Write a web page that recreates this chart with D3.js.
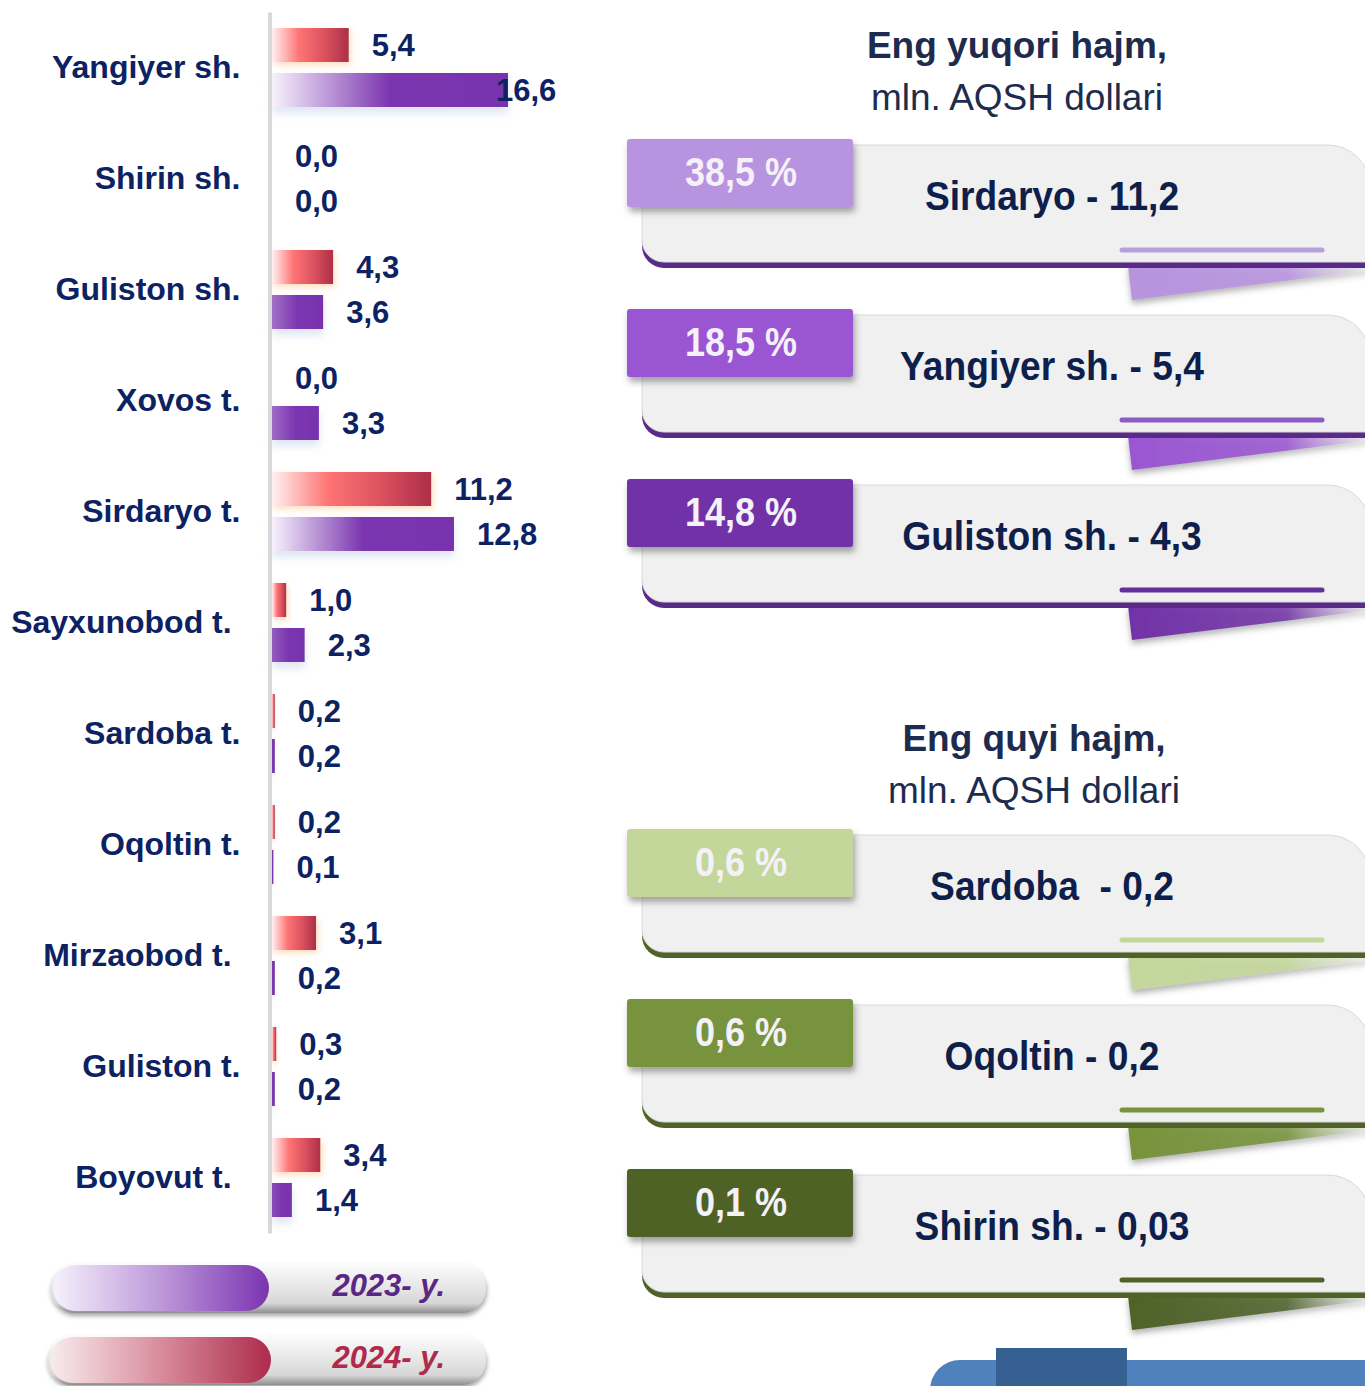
<!DOCTYPE html>
<html>
<head>
<meta charset="utf-8">
<script src="https://cdn.jsdelivr.net/npm/d3@7"></script>
<style>
  html, body { margin: 0; padding: 0; background: #ffffff; }
  svg { display: block; }
  text { font-family: "Liberation Sans", Arial, sans-serif; }
</style>
</head>
<body>
<svg id="chart" width="1365" height="1386"></svg>
<script>
// ---- data -------------------------------------------------------------
const districts = ["Yangiyer sh.", "Shirin sh.", "Guliston sh.", "Xovos t.", "Sirdaryo t.",
  "Sayxunobod t. ", "Sardoba t.", "Oqoltin t.", "Mirzaobod t. ", "Guliston t.", "Boyovut t. "];
const years = ["2024", "2023"];
const values2024 = [5.4, 0.0, 4.3, 0.0, 11.2, 1.0, 0.2, 0.2, 3.1, 0.3, 3.4];
const values2023 = [16.6, 0.0, 3.6, 3.3, 12.8, 2.3, 0.2, 0.1, 0.2, 0.2, 1.4];
const legendLabels = ["2023- y.", "2024- y."];

const topTitle = ["Eng yuqori hajm,", "mln. AQSH dollari"];
const topNames = ["Sirdaryo", "Yangiyer sh.", "Guliston sh."];
const topValues = [11.2, 5.4, 4.3];
const topShares = [38.5, 18.5, 14.8];

const lowTitle = ["Eng quyi hajm,", "mln. AQSH dollari"];
const lowNames = ["Sardoba ", "Oqoltin", "Shirin sh."];
const lowValues = [0.2, 0.2, 0.03];
const lowShares = [0.6, 0.6, 0.1];

// ---- helpers ----------------------------------------------------------
const locale = d3.formatLocale({decimal: ",", thousands: "\u00a0", grouping: [3], currency: ["", ""]});
const f1 = locale.format(".1f");
const f2 = locale.format(".2f");
const fmtVal = v => (v > 0 && v < 0.1) ? f2(v) : f1(v);

const navy = "#0c2262";
const svg = d3.select("#chart");
const defs = svg.append("defs");

function linGrad(id, stops, x2 = "100%", y2 = "0%") {
  const g = defs.append("linearGradient").attr("id", id)
    .attr("x1", "0%").attr("y1", "0%").attr("x2", x2).attr("y2", y2);
  stops.forEach(([o, c, op]) => g.append("stop").attr("offset", o)
    .attr("stop-color", c).attr("stop-opacity", op == null ? 1 : op));
}
function shadow(id, dx, dy, sd, color, op) {
  const f = defs.append("filter").attr("id", id)
    .attr("x", "-30%").attr("y", "-40%").attr("width", "160%").attr("height", "200%");
  f.append("feDropShadow").attr("dx", dx).attr("dy", dy).attr("stdDeviation", sd)
    .attr("flood-color", color).attr("flood-opacity", op);
}

linGrad("gRed", [["0%", "#fff1f1"], ["35%", "#ff7474"], ["70%", "#d9505e"], ["100%", "#ad2e48"]]);
linGrad("gLegPurple", [["0%", "#f6f1fb"], ["50%", "#bd98da"], ["100%", "#7b34b0"]]);
linGrad("gLegRed", [["0%", "#f8ecee"], ["50%", "#d88c9c"], ["100%", "#ad2c4b"]]);
linGrad("gPill", [["0%", "#fbfbfb"], ["45%", "#e8e8e8"], ["80%", "#d6d6d6"], ["100%", "#8f8f8f"]], "0%", "100%");
shadow("shRed", 2, 3, 3, "#ffc48a", 0.55);
shadow("shPurple", 0, 6, 4, "#c3d0e8", 0.55);
shadow("shBadge", 2, 5, 3, "#404040", 0.45);
shadow("shFold", 0, 4, 3, "#505050", 0.45);
shadow("shPill", 1, 3, 2, "#505050", 0.5);

// ---- left: grouped horizontal bars -----------------------------------
const x = d3.scaleLinear().domain([0, 16.6]).range([272, 508]);
const y = d3.scaleBand().domain(districts).range([12, 1233]);
const ySub = d3.scaleBand().domain(years).range([16, 95]).paddingInner(0.244);

// the 2023 fill fades in from a pale tint; short bars keep most of the colour
const purpleFade = d3.interpolateRgb("#7b35b0", "#f7f2fb");
values2023.forEach((v, i) => {
  const w = x(v) - x(0);
  linGrad("gPurple" + i, [["0%", purpleFade(Math.min(1, w / 160))], ["50%", "#7b35b0"], ["100%", "#7833ae"]]);
});

const rows = districts.map((d, i) => ({
  district: d,
  series: [
    {year: "2024", value: values2024[i], fill: "url(#gRed)", filter: "url(#shRed)"},
    {year: "2023", value: values2023[i], fill: `url(#gPurple${i})`, filter: "url(#shPurple)"}
  ]
}));

const axis = svg.append("g").attr("transform", "translate(269.5,0)")
  .call(d3.axisLeft(y).tickSize(0).tickSizeOuter(0).tickPadding(29));
axis.select(".domain").attr("stroke", "#d9d9d9").attr("stroke-width", 4);
axis.selectAll(".tick text")
  .attr("fill", navy).attr("font-size", 32).attr("font-weight", "bold")
  .style("white-space", "pre")
  .attr("font-family", "'Liberation Sans', Arial, sans-serif");

const groups = svg.append("g").selectAll("g").data(rows).join("g")
  .attr("transform", d => `translate(0,${y(d.district)})`);

groups.selectAll("rect").data(d => d.series).join("rect")
  .attr("x", x(0))
  .attr("y", d => ySub(d.year))
  .attr("width", d => x(d.value) - x(0))
  .attr("height", ySub.bandwidth())
  .attr("fill", d => d.fill)
  .attr("filter", d => d.filter);

groups.selectAll("text").data(d => d.series).join("text")
  .attr("x", d => Math.min(x(d.value) + 23, x.range()[1] - 12))
  .attr("y", d => ySub(d.year) + ySub.bandwidth() / 2)
  .attr("dy", "0.36em")
  .attr("fill", navy).attr("font-size", 31).attr("font-weight", "bold")
  .text(d => f1(d.value));

// ---- legend pills ----------------------------------------------------
const legend = [
  {label: legendLabels[0], grad: "url(#gLegPurple)", color: "#5a2787", y0: 1264, x0: 50, cw: 216},
  {label: legendLabels[1], grad: "url(#gLegRed)", color: "#b02a4c", y0: 1336, x0: 47, cw: 221}
];
const lg = svg.append("g").selectAll("g").data(legend).join("g");
lg.append("rect")
  .attr("x", d => d.x0).attr("y", d => d.y0).attr("width", d => 486 - d.x0).attr("height", 49)
  .attr("rx", 24.5).attr("fill", "url(#gPill)").attr("filter", "url(#shPill)");
lg.append("rect")
  .attr("x", d => d.x0 + 3).attr("y", d => d.y0 + 1).attr("width", d => d.cw).attr("height", 46)
  .attr("rx", 23).attr("fill", d => d.grad);
lg.append("text")
  .attr("x", 445).attr("y", d => d.y0 + 21).attr("dy", "0.36em")
  .attr("text-anchor", "end").attr("font-size", 31).attr("font-weight", "bold")
  .attr("font-style", "italic").attr("fill", d => d.color)
  .text(d => d.label);

// ---- right: ranking cards -------------------------------------------
function titleBlock(lines, cx, y1, y2) {
  const t = svg.append("g");
  t.append("text").attr("x", cx).attr("y", y1).attr("dy", "0.36em").attr("text-anchor", "middle")
    .attr("font-size", 37).attr("font-weight", "bold").attr("fill", "#1d2c4e").text(lines[0]);
  t.append("text").attr("x", cx).attr("y", y2).attr("dy", "0.36em").attr("text-anchor", "middle")
    .attr("font-size", 37).attr("fill", "#1d2c4e").text(lines[1]);
}
titleBlock(topTitle, 1017, 45, 97);
titleBlock(lowTitle, 1034, 738, 790);

const topCards = topNames.map((n, i) => ({
  name: n, value: topValues[i], share: topShares[i],
  badge: ["#b893df", "#9a56d2", "#7233a7"][i],
  line: ["#b7a0de", "#8b5cc4", "#63309c"][i],
  border: "#5a2a88", top: 139 + i * 170
}));
const lowCards = lowNames.map((n, i) => ({
  name: n, value: lowValues[i], share: lowShares[i],
  badge: ["#c4d79b", "#77933c", "#4f6228"][i],
  line: ["#c4d79b", "#77933c", "#4f6228"][i],
  border: "#4f6228", top: 829 + i * 170
}));
const cards = topCards.concat(lowCards);

cards.forEach((c, i) => {
  linGrad("gFold" + i, [["0%", c.badge], ["65%", c.badge, 0.85], ["100%", "#e6e6e6", 0.6]]);
});

const bodyPath = t => `M642,${t + 6} H1328 A42,42 0 0 1 1370,${t + 48} V${t + 123} H664 ` +
  `A22,22 0 0 1 642,${t + 101} Z`;

const cg = svg.append("g").selectAll("g").data(cards).join("g");
// folded ribbon tail under the card
cg.append("path")
  .attr("d", d => `M1128,${d.top + 127} L1372,${d.top + 127} L1372,${d.top + 131} L1132,${d.top + 161} Z`)
  .attr("fill", (d, i) => `url(#gFold${i})`).attr("filter", "url(#shFold)");
// dark lower edge
cg.append("path").attr("d", d => bodyPath(d.top)).attr("transform", "translate(0,6)")
  .attr("fill", d => d.border);
// card body
cg.append("path").attr("d", d => bodyPath(d.top))
  .attr("fill", "#f0f0f0").attr("stroke", "#d9d9d9").attr("stroke-width", 1);
// accent stroke inside the card
cg.append("line")
  .attr("x1", 1122).attr("x2", 1322).attr("y1", d => d.top + 111).attr("y2", d => d.top + 111)
  .attr("stroke", d => d.line).attr("stroke-width", 5).attr("stroke-linecap", "round");
// percentage badge
cg.append("rect")
  .attr("x", 627).attr("y", d => d.top).attr("width", 226).attr("height", 68).attr("rx", 3)
  .attr("fill", d => d.badge).attr("filter", "url(#shBadge)");
cg.append("text")
  .attr("transform", d => `translate(741,${d.top + 33}) scale(0.9,1)`)
  .attr("dy", "0.36em").attr("text-anchor", "middle")
  .attr("font-size", 40).attr("font-weight", "bold").attr("fill", "#f5f1f8")
  .text(d => `${f1(d.share)} %`);
cg.append("text")
  .attr("transform", d => `translate(1052,${d.top + 57}) scale(0.93,1)`)
  .attr("dy", "0.36em").attr("text-anchor", "middle")
  .style("white-space", "pre")
  .attr("font-size", 40).attr("font-weight", "bold").attr("fill", "#0e1f4c")
  .text(d => `${d.name} - ${fmtVal(d.value)}`);

// ---- decorative footer band -----------------------------------------
svg.append("rect").attr("x", 930).attr("y", 1360).attr("width", 480).attr("height", 60)
  .attr("rx", 30).attr("fill", "#4f81bd");
svg.append("rect").attr("x", 996).attr("y", 1348).attr("width", 131).attr("height", 40)
  .attr("fill", "#366092");
</script>
</body>
</html>
